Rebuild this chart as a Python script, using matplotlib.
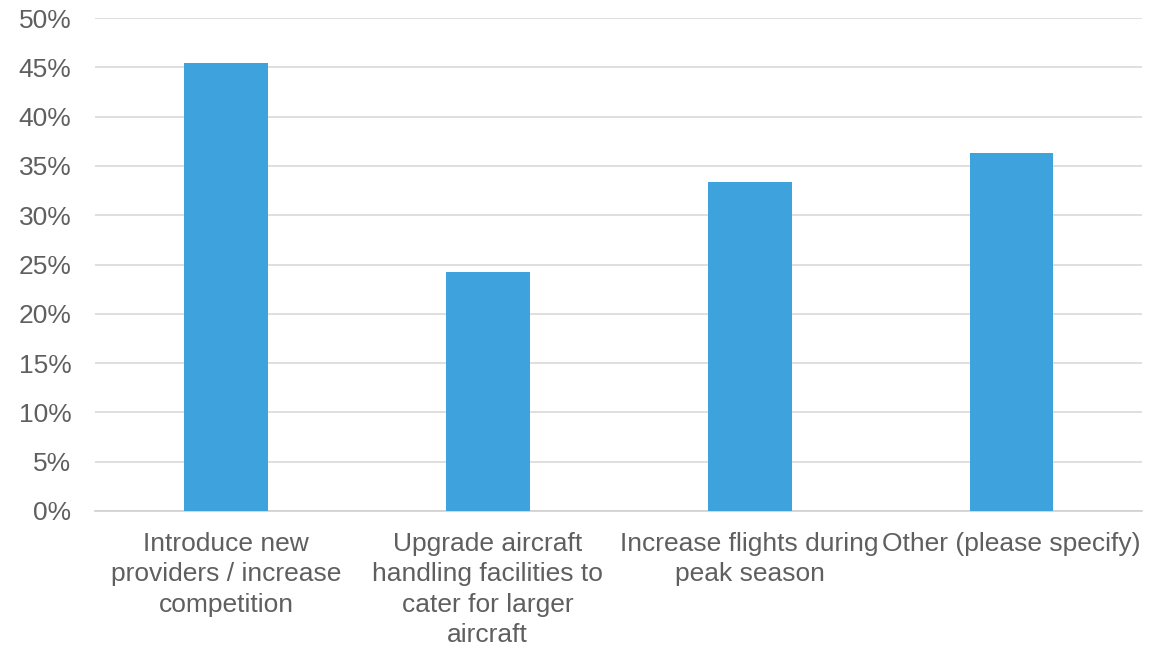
import matplotlib.pyplot as plt
from matplotlib.ticker import PercentFormatter

plt.rcParams['font.family'] = ['Liberation Sans', 'DejaVu Sans']

# survey answers (share of respondents)
categories = [
    "Introduce new\nproviders / increase\ncompetition",
    "Upgrade aircraft\nhandling facilities to\ncater for larger\naircraft",
    "Increase flights during\npeak season",
    "Other (please specify)",
]
shares = [45.45, 24.24, 33.33, 36.36]
y_ticks = [0, 5, 10, 15, 20, 25, 30, 35, 40, 45, 50]

text_col = '#5f5f5f'
bar_col = '#3ea2dc'

fig = plt.figure(figsize=(11.56, 6.45), dpi=100)
ax = fig.add_axes([0.0822, 0.2078, 0.906, 0.7642])

x = range(len(categories))
ax.bar(x, shares, width=0.32, color=bar_col, zorder=3)

ax.set_xlim(-0.5, len(categories) - 0.5)
ax.set_ylim(0, 50)
ax.set_yticks(y_ticks)
ax.yaxis.set_major_formatter(PercentFormatter(decimals=0))
ax.set_xticks(list(x))
ax.set_xticklabels(categories, ha='center', va='top', linespacing=1.34)

ax.grid(axis='y', color='#d9d9d9', linewidth=1.2, zorder=0)
for side in ['top', 'right', 'left']:
    ax.spines[side].set_visible(False)
ax.spines['bottom'].set_color('#d0d0d0')
ax.spines['bottom'].set_linewidth(1.2)

ax.tick_params(axis='both', length=0, labelsize=19, labelcolor=text_col)
ax.tick_params(axis='y', pad=17)
ax.tick_params(axis='x', pad=15)

fig.savefig('out.png', dpi=100)
